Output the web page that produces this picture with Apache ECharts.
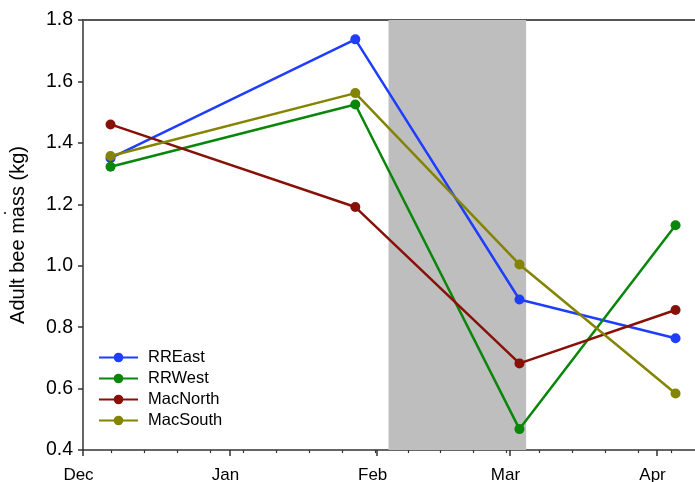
<!DOCTYPE html>
<html>
<head>
<meta charset="utf-8">
<script src="https://cdn.jsdelivr.net/npm/echarts@6/dist/echarts.min.js"></script>
<style>
html,body{margin:0;padding:0;background:#fff;}
#chart{width:695px;height:482px;}
</style>
</head>
<body>
<div id="chart"></div>
<script>
// x values are days after 1 December
var sampleDays = [5.8, 57.4, 92.0, 124.9];
var seriesNames = ['RREast', 'RRWest', 'MacNorth', 'MacSouth'];
var rrEast = [1.350, 1.737, 0.890, 0.764];
var rrWest = [1.322, 1.525, 0.468, 1.132];
var macNorth = [1.460, 1.191, 0.682, 0.856];
var macSouth = [1.357, 1.562, 1.004, 0.584];
var monthDays = [0, 31, 62, 90, 121];
var monthLabels = ['Dec', 'Jan', 'Feb', 'Mar', 'Apr'];
var minorTickDays = [6, 12.9, 19.9, 26.8, 33.7, 40.7, 47.6, 54.6, 61.5, 68.5, 75.4, 82.3, 89.3, 96.2, 103.2, 110.1, 117.0, 124.0];
var shadedPeriod = [64.4, 93.4];
var yTicks = [0.4, 0.6, 0.8, 1.0, 1.2, 1.4, 1.6, 1.8];

var colors = ['#1f3dff', '#0a870a', '#871008', '#848400'];
var allValues = [rrEast, rrWest, macNorth, macSouth];
var FONT = '"Liberation Sans", Arial, Helvetica, sans-serif';

var chart = echarts.init(document.getElementById('chart'), null, {renderer: 'canvas'});

var series = seriesNames.map(function (name, i) {
  var s = {
    name: name,
    type: 'line',
    xAxisIndex: 0,
    yAxisIndex: 0,
    data: sampleDays.map(function (d, j) { return [d, allValues[i][j]]; }),
    symbol: 'circle',
    symbolSize: 10,
    showSymbol: true,
    lineStyle: {width: 2.5, color: colors[i]},
    itemStyle: {color: colors[i]},
    z: 3 + i,
    animation: false
  };
  if (i === 0) {
    s.markArea = {
      silent: true,
      itemStyle: {color: '#bebebe'},
      data: [[{xAxis: shadedPeriod[0]}, {xAxis: shadedPeriod[1]}]],
      z: 1
    };
  }
  return s;
});

var option = {
  animation: false,
  backgroundColor: '#fff',
  color: colors,
  grid: {left: 83, top: 20, right: 0, height: 430, containLabel: false, outerBoundsMode: 'none'},
  legend: {
    orient: 'vertical',
    left: 98,
    top: 349,
    padding: 0,
    itemWidth: 39,
    itemHeight: 12,
    itemGap: 4,
    data: seriesNames,
    textStyle: {fontFamily: FONT, fontSize: 16.5, color: '#000', padding: [0, 0, 0, 5]}
  },
  xAxis: [
    {
      type: 'value', min: 0, max: 129, position: 'bottom',
      axisLine: {show: true, lineStyle: {color: '#333', width: 1.5}},
      axisTick: {show: true, customValues: monthDays, length: 6, inside: false, lineStyle: {color: '#333', width: 1.5}},
      axisLabel: {
        show: true, customValues: monthDays, margin: 17,
        fontFamily: FONT, fontSize: 17, color: '#000',
        padding: [0, 9, 0, 0],
        formatter: function (v) {
          var k = monthDays.indexOf(Math.round(v));
          return k >= 0 ? monthLabels[k] : '';
        }
      },
      splitLine: {show: false}
    },
    {
      type: 'value', min: 0, max: 129, position: 'bottom', gridIndex: 0,
      axisLine: {show: false},
      axisTick: {show: true, customValues: minorTickDays, length: 3, inside: false, lineStyle: {color: '#333', width: 1.2}},
      axisLabel: {show: false},
      splitLine: {show: false}
    },
    {
      type: 'value', min: 0, max: 129, position: 'top', gridIndex: 0,
      axisLine: {show: true, lineStyle: {color: '#555', width: 2}},
      axisTick: {show: false},
      axisLabel: {show: false},
      splitLine: {show: false}
    }
  ],
  yAxis: {
    type: 'value', min: 0.4, max: 1.8, interval: 0.2,
    name: 'Adult bee mass (kg)',
    nameLocation: 'middle',
    nameGap: 55,
    nameRotate: 90,
    nameTextStyle: {fontFamily: FONT, fontSize: 20, color: '#000'},
    axisLine: {show: true, lineStyle: {color: '#333', width: 1.5}},
    axisTick: {show: true, length: 5, inside: false, lineStyle: {color: '#333', width: 1.5}},
    axisLabel: {
      margin: 10, fontFamily: FONT, fontSize: 19.5, color: '#000',
      formatter: function (v) { return v.toFixed(1); }
    },
    splitLine: {show: false}
  },
  graphic: [
    {type: 'circle', left: 4, top: 212, shape: {r: 1}, style: {fill: '#000'}, silent: true}
  ],
  series: series
};
chart.setOption(option);
</script>
</body>
</html>
